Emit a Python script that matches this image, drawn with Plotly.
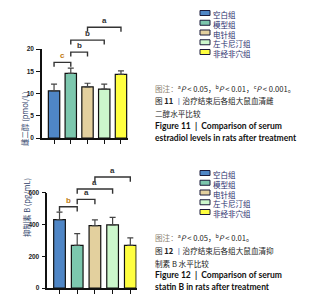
import plotly.graph_objects as go

# ---------------- data ----------------
groups = ["空白组", "模型组", "电针组", "左卡尼汀组", "非经非穴组"]
bar_colors = ["#4f86c6", "#7cc7ae", "#e3d09e", "#ccf7cc", "#ffff40"]

e2_mean = [10.6, 14.5, 11.5, 11.0, 14.3]
e2_err = [1.5, 1.2, 0.8, 1.1, 0.8]
e2_ticks = [0, 5, 10, 15, 20]
e2_pairs = [(0, 1, "c"), (1, 2, "b"), (1, 3, "b"), (2, 4, "a")]
e2_levels = [17.0, 19.3, 22.0, 24.9]
e2_drop = 1.0

inhb_mean = [430, 268, 393, 397, 268]
inhb_err = [48, 74, 36, 48, 47]
inhb_ticks = [0, 200, 400, 600]
inhb_pairs = [(0, 1, "b"), (1, 2, "a"), (1, 3, "a"), (2, 4, "a")]
inhb_levels = [512, 558, 623, 699]
inhb_drop = 30

xpos = list(range(len(groups)))

W, H = 326, 300


def px(x):
    return x / W


def py(y):
    return (H - y) / H


fig = go.Figure()

# ---------------- bars ----------------
fig.add_trace(go.Bar(
    x=xpos, y=e2_mean, width=0.68,
    marker=dict(color=bar_colors, line=dict(color="#111111", width=1.2)),
    error_y=dict(type="data", array=e2_err, arrayminus=[0] * 5, symmetric=False,
                 color="#444444", thickness=1.2, width=3),
    xaxis="x", yaxis="y", showlegend=False))

fig.add_trace(go.Bar(
    x=xpos, y=inhb_mean, width=0.66,
    marker=dict(color=bar_colors, line=dict(color="#111111", width=1.2)),
    error_y=dict(type="data", array=inhb_err, arrayminus=[0] * 5, symmetric=False,
                 color="#444444", thickness=1.2, width=3),
    xaxis="x2", yaxis="y2", showlegend=False))

# ---------------- significance brackets ----------------
annotations = []
for k, ((i, j, lab), lev) in enumerate(zip(e2_pairs, e2_levels)):
    fig.add_trace(go.Scatter(x=[i, i, j, j], y=[lev - e2_drop, lev, lev, lev - e2_drop],
                             mode="lines", line=dict(color="#333333", width=1.4),
                             xaxis="x3", yaxis="y3", showlegend=False, hoverinfo="skip"))
    annotations.append(dict(x=(i + j) / 2, y=lev, xref="x3", yref="y3", text=lab,
                            showarrow=False, yanchor="bottom",
                            font=dict(size=8, color="#c07a10" if k == 0 else "#333333",
                                      family="Liberation Sans", weight="bold")))

for k, ((i, j, lab), lev) in enumerate(zip(inhb_pairs, inhb_levels)):
    fig.add_trace(go.Scatter(x=[i, i, j, j], y=[lev - inhb_drop, lev, lev, lev - inhb_drop],
                             mode="lines", line=dict(color="#333333", width=1.4),
                             xaxis="x4", yaxis="y4", showlegend=False, hoverinfo="skip"))
    annotations.append(dict(x=(i + j) / 2, y=lev, xref="x4", yref="y4", text=lab,
                            showarrow=False, yanchor="bottom",
                            font=dict(size=8, color="#c07a10" if k == 0 else "#333333",
                                      family="Liberation Sans", weight="bold")))

# ---------------- axes ----------------
tickfont = dict(size=6.5, color="#222222", family="Liberation Sans", weight="bold")
xcommon = dict(showline=True, linecolor="#111111", linewidth=1.5, ticks="outside",
               ticklen=4, tickwidth=1.2, tickcolor="#111111", tickvals=xpos,
               showticklabels=False, showgrid=False, zeroline=False)
ycommon = dict(showline=True, linecolor="#111111", linewidth=1.5, ticks="outside",
               ticklen=4, tickwidth=1.2, tickcolor="#111111", tickfont=tickfont,
               showgrid=False, zeroline=False, ticklabelstandoff=1)

d1 = [px(34), px(120)]
d2 = [px(39.3), px(128.5)]
y1dom = [py(130), py(41)]
y3dom = [py(130), py(10)]
y2dom = [py(280), py(184.7)]
y4dom = [py(280), py(155)]

fig.update_layout(
    xaxis=dict(domain=d1, range=[-0.72, 4.42], anchor="y", **xcommon),
    yaxis=dict(domain=y1dom, range=[0, 20], anchor="x", tickvals=e2_ticks, **ycommon),
    xaxis2=dict(domain=d2, range=[-0.69, 4.35], anchor="y2", **xcommon),
    yaxis2=dict(domain=y2dom, range=[0, 600], anchor="x2", tickvals=inhb_ticks, **ycommon),
    xaxis3=dict(domain=d1, range=[-0.72, 4.42], anchor="y3", visible=False),
    yaxis3=dict(domain=y3dom, range=[0, 20 * (y3dom[1] - y3dom[0]) / (y1dom[1] - y1dom[0])],
                anchor="x3", visible=False),
    xaxis4=dict(domain=d2, range=[-0.69, 4.35], anchor="y4", visible=False),
    yaxis4=dict(domain=y4dom, range=[0, 600 * (y4dom[1] - y4dom[0]) / (y2dom[1] - y2dom[0])],
                anchor="x4", visible=False),
)

# ---------------- y titles ----------------
ytitle_font = dict(size=7.5, color="#2f3f6a", family="Noto Sans CJK SC")
annotations.append(dict(x=px(9), y=py(81), xref="paper", yref="paper", text="雌二醇 (pmol/L)",
                        textangle=-90, showarrow=False, font=ytitle_font))
annotations.append(dict(x=px(11), y=py(231), xref="paper", yref="paper", text="抑制素 B (pg/mL)",
                        textangle=-90, showarrow=False, font=ytitle_font))

# ---------------- legends (manual, one text block each) ----------------
shapes = []
leg_size = 7.5
leg_gap = leg_size * 1.3
legend_font = dict(size=leg_size, color="#1f2d6b", family="Noto Sans CJK SC")
for top in (5, 165):
    for k, c in enumerate(bar_colors):
        yc = top + k * leg_gap
        shapes.append(dict(type="rect", xref="paper", yref="paper",
                           x0=px(192), x1=px(202), y0=py(yc + 2.5), y1=py(yc - 2.5),
                           fillcolor=c, line=dict(color="#1a1a3a", width=1)))
    annotations.append(dict(x=px(204), y=py(top - leg_gap / 2), xref="paper", yref="paper",
                            text="<br>".join(groups), align="left",
                            xanchor="left", yanchor="top", showarrow=False,
                            borderpad=0, font=legend_font))

# ---------------- captions ----------------
cn_font = dict(size=7.6, color="#222222", family="Noto Sans CJK SC")
en_font = dict(size=8.5, color="#111111", family="Lato", weight="bold")
note_lab = "<span style='color:#8a7f72'>图注：</span>"
bar_sym = "<span style='color:#3b6fb6'>丨</span>"
cap1 = [
    (80, note_lab + "<sup>a</sup><i>P</i> < 0.05，<sup>b</sup><i>P</i> < 0.01，<sup>c</sup><i>P</i> < 0.001。", cn_font),
    (92, "图 <b>11</b> " + bar_sym + "治疗结束后各组大鼠血清雌", cn_font),
    (105, "二醇水平比较", cn_font),
    (118, "Figure 11  |  Comparison of serum", en_font),
    (130, "estradiol levels in rats after treatment", en_font),
]
cap2 = [
    (230, note_lab + "<sup>a</sup><i>P</i> < 0.05，<sup>b</sup><i>P</i> < 0.01。", cn_font),
    (242, "图 <b>12</b> " + bar_sym + "治疗结束后各组大鼠血清抑", cn_font),
    (255, "制素 B 水平比较", cn_font),
    (267, "Figure 12  |  Comparison of serum", en_font),
    (279, "statin B in rats after treatment", en_font),
]
for yc, txt, f in cap1 + cap2:
    annotations.append(dict(x=px(146), y=py(yc), xref="paper", yref="paper", text=txt,
                            xanchor="left", yanchor="middle", showarrow=False,
                            borderpad=0, font=f))

fig.update_layout(
    width=W, height=H, margin=dict(l=0, r=0, t=0, b=0),
    template="none", paper_bgcolor="white", plot_bgcolor="rgba(0,0,0,0)",
    annotations=annotations, shapes=shapes, showlegend=False,
)

fig.write_html("out.html", config={"displayModeBar": False})
